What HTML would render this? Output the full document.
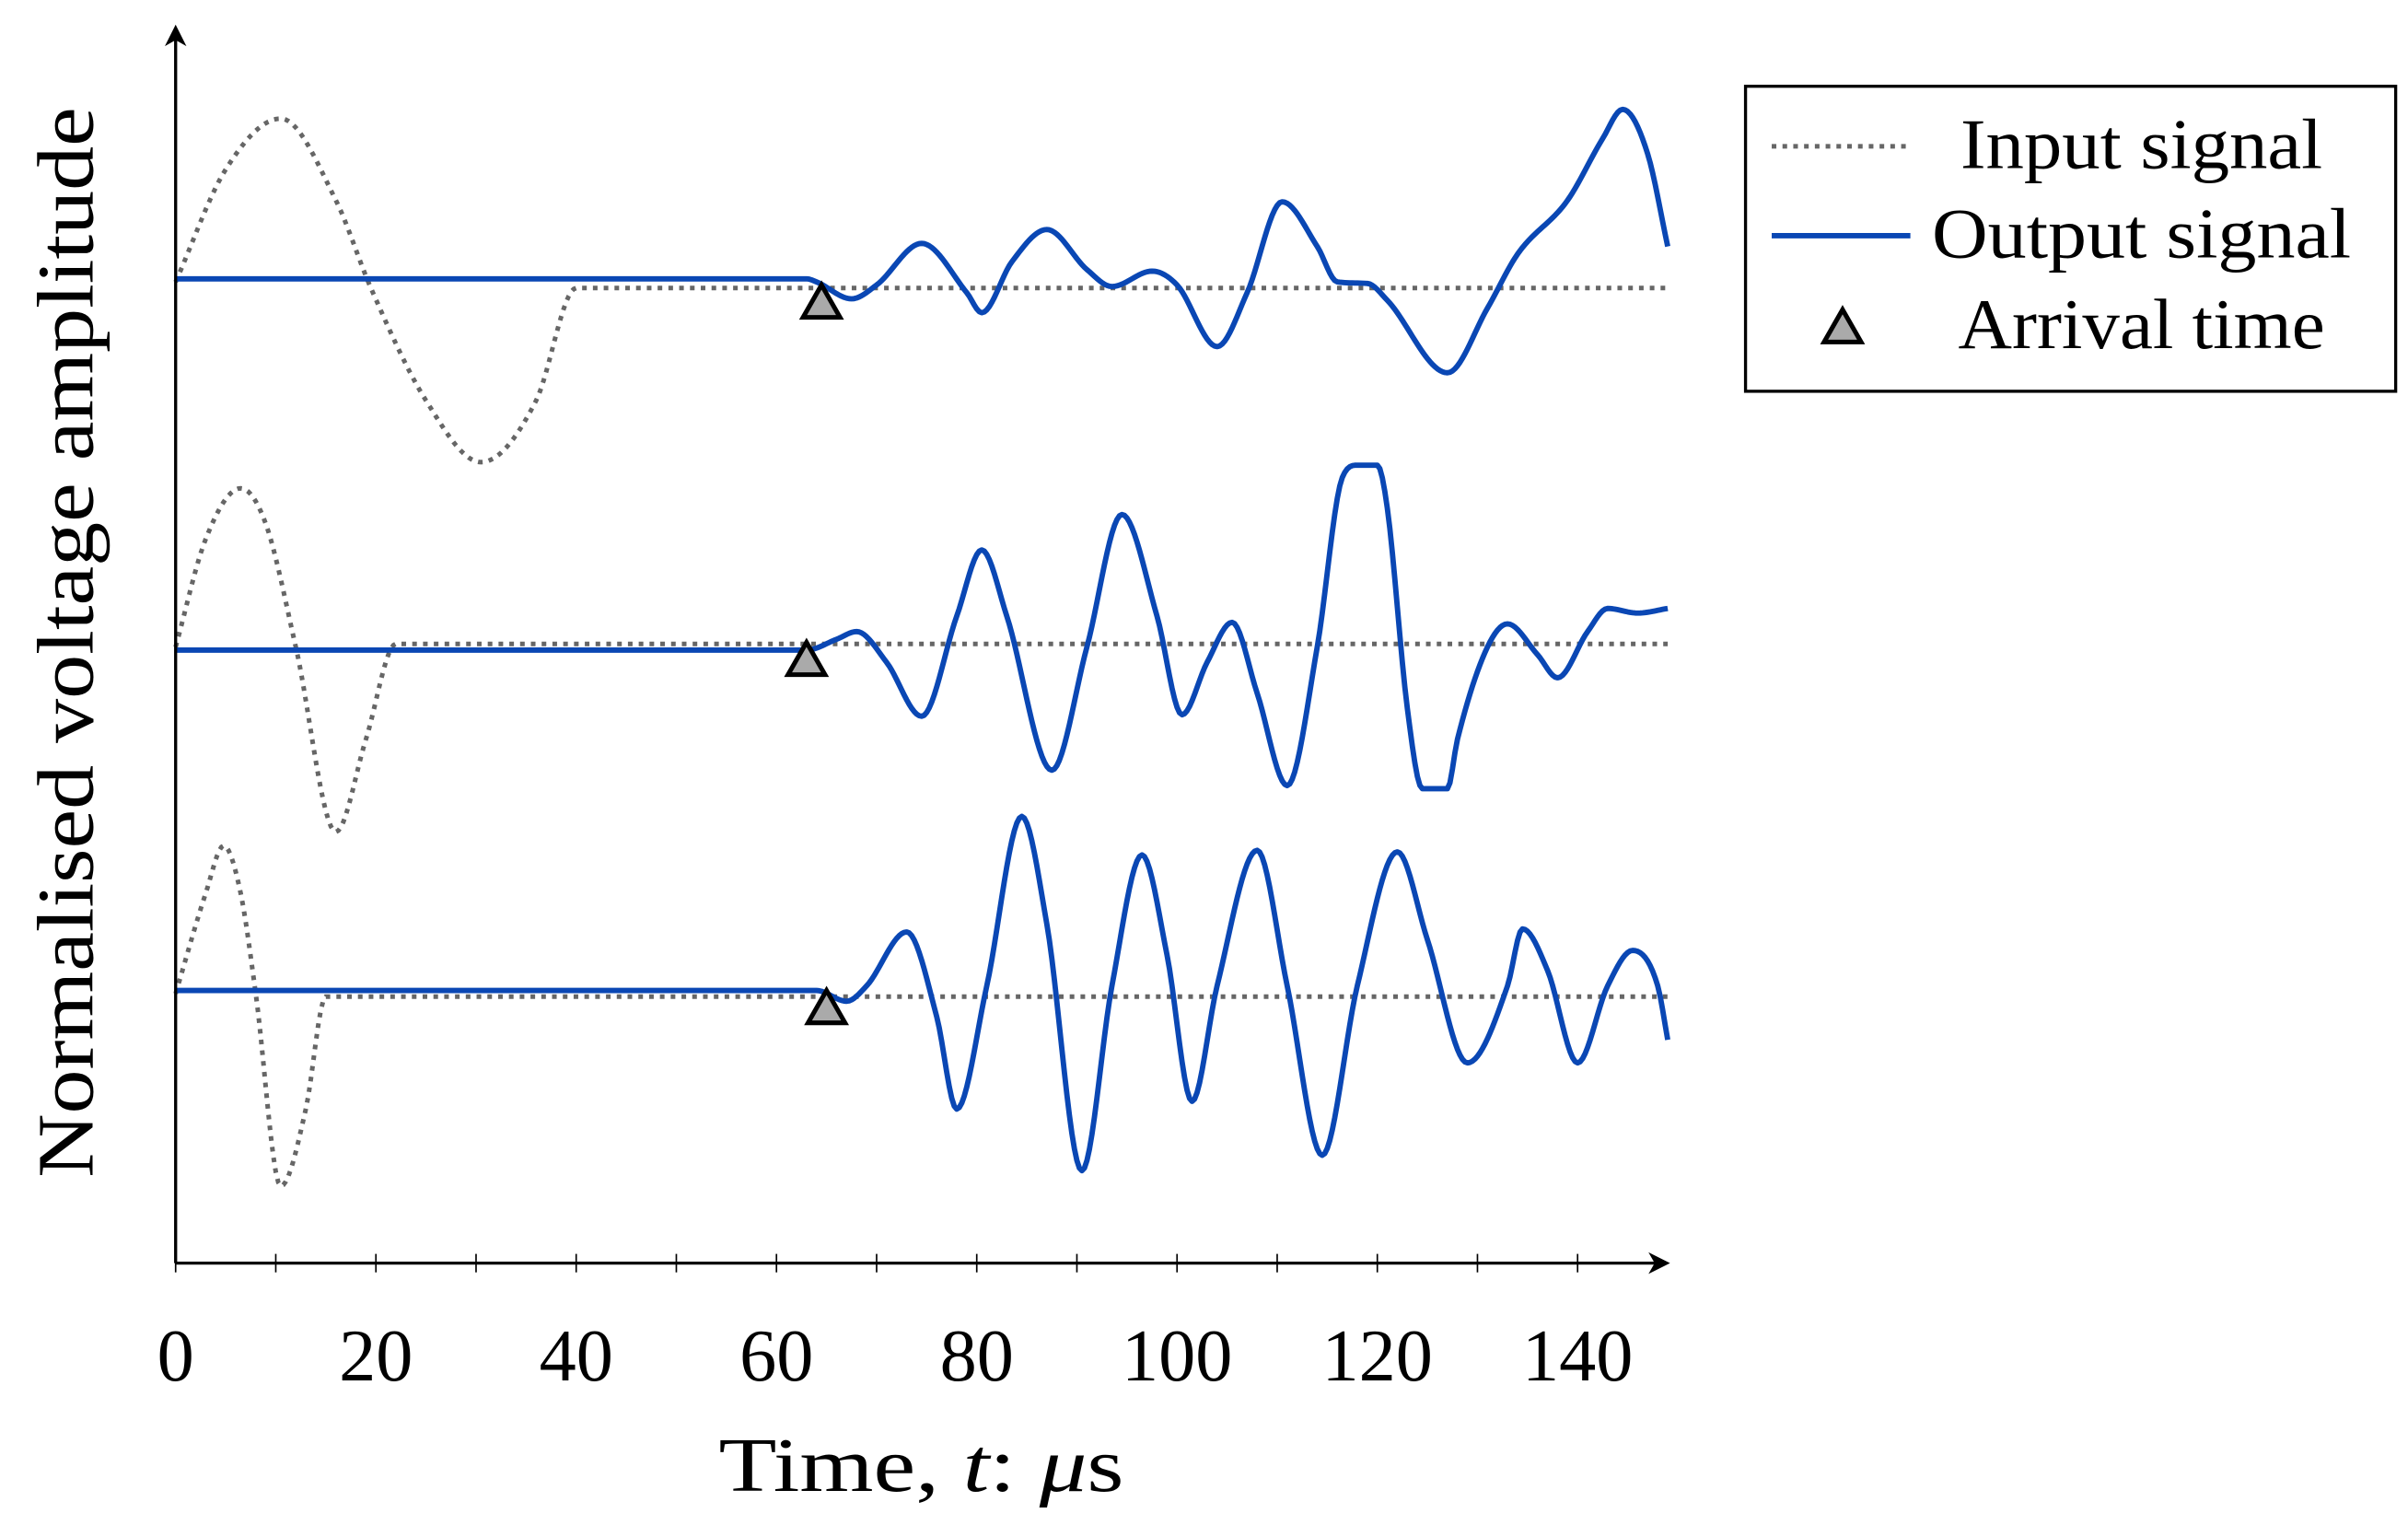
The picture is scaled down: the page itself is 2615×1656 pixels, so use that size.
<!DOCTYPE html>
<html><head><meta charset="utf-8"><style>
html,body{margin:0;padding:0;background:#fff;}
svg{display:block;}
text{font-family:"Liberation Serif",serif;fill:#000;}
</style></head><body>
<svg id="chart" width="2615" height="1656" viewBox="0 0 1563 990" preserveAspectRatio="none" xmlns="http://www.w3.org/2000/svg">
<g id="plot"></g>
<g>
<line x1="114" y1="820" x2="1078" y2="820" stroke="#000" stroke-width="2"/>
<path d="M1084 820 L1070 813 L1074 820 L1070 827 Z" fill="#000"/>
</g>
<g>
<line x1="114" y1="820" x2="114" y2="22" stroke="#000" stroke-width="2"/>
<path d="M114 16 L107 30 L114 26 L121 30 Z" fill="#000"/>
</g>
<g id="ticks"></g>
<text x="598" y="968" font-size="50" text-anchor="middle" textLength="263" lengthAdjust="spacingAndGlyphs">Time, <tspan font-style="italic">t</tspan>:  <tspan font-style="italic">μ</tspan>s</text>
<text transform="translate(60,417) rotate(-90)" font-size="52" text-anchor="middle" textLength="695" lengthAdjust="spacingAndGlyphs">Normalised voltage amplitude</text>
<g>
<rect x="1133" y="56" width="422" height="198" fill="#fff" stroke="#000" stroke-width="2"/>
<g>
<line x1="1150" y1="95" x2="1237" y2="95" stroke="#666" stroke-width="3" stroke-dasharray="3,4"/>
<text x="1390" y="109" font-size="46" text-anchor="middle" textLength="235" lengthAdjust="spacingAndGlyphs">Input signal</text></g>
<g>
<line x1="1150" y1="153" x2="1240" y2="153" stroke="#0a47b4" stroke-width="3.5"/>
<text x="1390" y="167" font-size="46" text-anchor="middle" textLength="272" lengthAdjust="spacingAndGlyphs">Output signal</text></g>
<g>
<path d="M1196 201 L1208 222 L1184 222 Z" fill="#aaa" stroke="#000" stroke-width="3"/>
<text x="1390" y="226" font-size="46" text-anchor="middle" textLength="238" lengthAdjust="spacingAndGlyphs">Arrival time</text></g>
</g>
</svg>
<script>
const centers = [185, 420, 645];
const inT = [
 [0,5,10.5,16,19.5,25,30.5,36,40,149],
 [0,3,6.5,9,12,16,19,22,149],
 [0,3,4.8,6.5,8,10.5,13,15,149]];
const inA = [
 [0.02,0.75,1.08,0.55,-0.02,-0.75,-1.15,-0.75,-0.02,-0.02],
 [0,0.70,1.03,0.80,0,-1.20,-0.60,0.02,0.02],
 [0,0.65,0.96,0.65,0,-1.25,-0.75,-0.02,-0.02]];
const outT = [
 [0,63,64,67.5,70,74.5,79,80.5,83.5,87,91,93.5,97.5,100,104,107,110.5,114,116,119,121,127,131,134,139,142.5,144.5,147,149],
 [0,63,66,68,71,74.5,78,80.5,83,87.5,91,94.5,98,100.5,103,105.5,108,111,114,116.5,118,120,121,123,124.5,127,128,131,133,136,138,141,143,146,149],
 [0,64,67,69,73,76,78,81,84.5,87,90.5,93.5,96.5,99,101.5,104,108,111,114.5,118,122,125,129,133,134.5,137,140,143,145.5,148,149]];
const outA = [
 [0.04,0.04,0.02,-0.09,0,0.27,-0.05,-0.18,0.15,0.36,0.10,-0.01,0.09,0,-0.40,-0.05,0.54,0.25,0.02,0.01,-0.10,-0.57,-0.15,0.20,0.55,0.95,1.14,0.85,0.25],
 [-0.02,-0.02,0.05,0.10,-0.10,-0.45,0.20,0.63,0.20,-0.80,0,0.86,0.20,-0.44,-0.10,0.16,-0.30,-0.90,0,1.10,1.18,1.18,0.90,-0.40,-0.92,-0.92,-0.60,0,0.15,-0.05,-0.20,0.10,0.25,0.22,0.25],
 [0.02,0.02,-0.05,0.05,0.40,-0.15,-0.75,0.05,1.15,0.45,-1.15,0.05,0.90,0.25,-0.70,0.05,0.93,0.05,-1.05,0.05,0.92,0.35,-0.45,0.05,0.42,0.15,-0.45,0.05,0.28,0.05,-0.30]];
const arrivalT = [64.5, 63, 65];
const arrivalA = [-0.11, -0.08, -0.09];
const xTicks = [0,10,20,30,40,50,60,70,80,90,100,110,120,130,140];
const xLabels = [0,20,40,60,80,100,120,140];

function xs(t){return 114 + t*6.5;}
function ys(i,a){return centers[i] - a*100;}
// monotone cubic (Fritsch-Carlson) sampled path
function path(i,T,A){
  const n=T.length, d=[], m=[];
  for(let k=0;k<n-1;k++) d.push((A[k+1]-A[k])/(T[k+1]-T[k]));
  m[0]=d[0]; m[n-1]=d[n-2];
  for(let k=1;k<n-1;k++) m[k]=(d[k-1]*d[k]<=0)?0:(d[k-1]+d[k])/2;
  for(let k=0;k<n-1;k++){
    if(d[k]===0){m[k]=0;m[k+1]=0;continue;}
    const a=m[k]/d[k], b=m[k+1]/d[k], s=a*a+b*b;
    if(s>9){const tau=3/Math.sqrt(s);m[k]=tau*a*d[k];m[k+1]=tau*b*d[k];}
  }
  let s='M'+xs(T[0])+' '+ys(i,A[0]);
  for(let k=0;k<n-1;k++){
    const h=T[k+1]-T[k], steps=Math.max(2,Math.ceil(h*4));
    for(let j=1;j<=steps;j++){
      const u=j/steps, u2=u*u, u3=u2*u;
      const v=(2*u3-3*u2+1)*A[k]+(u3-2*u2+u)*h*m[k]+(-2*u3+3*u2)*A[k+1]+(u3-u2)*h*m[k+1];
      s+=' L'+xs(T[k]+u*h).toFixed(2)+' '+ys(i,v).toFixed(2);
    }
  }
  return s;
}
const NS='http://www.w3.org/2000/svg';
const plot=document.getElementById('plot');
for(let i=0;i<3;i++){
  const g=document.createElementNS(NS,'path');
  g.setAttribute('d',path(i,inT[i],inA[i]));
  g.setAttribute('fill','none');g.setAttribute('stroke','#666');
  g.setAttribute('stroke-width','3');g.setAttribute('stroke-dasharray','3,4');
  
  
  plot.appendChild(g);
}
for(let i=0;i<3;i++){
  const b=document.createElementNS(NS,'path');
  b.setAttribute('d',path(i,outT[i],outA[i]));
  b.setAttribute('fill','none');b.setAttribute('stroke','#0a47b4');
  b.setAttribute('stroke-width','3.5');b.setAttribute('stroke-linejoin','round');
  
  
  plot.appendChild(b);
}
for(let i=0;i<3;i++){
  const x=xs(arrivalT[i]), y=ys(i,arrivalA[i]);
  const tr=document.createElementNS(NS,'path');
  tr.setAttribute('d','M'+x+' '+(y-11)+' L'+(x+12)+' '+(y+10)+' L'+(x-12)+' '+(y+10)+' Z');
  tr.setAttribute('fill','#aaa');tr.setAttribute('stroke','#000');tr.setAttribute('stroke-width','3');
  
  
  plot.appendChild(tr);
}
const tk=document.getElementById('ticks');
xTicks.forEach(t=>{
  const l=document.createElementNS(NS,'line');
  l.setAttribute('x1',xs(t));l.setAttribute('x2',xs(t));
  l.setAttribute('y1',814);l.setAttribute('y2',826);
  l.setAttribute('stroke','#000');l.setAttribute('stroke-width','1');
  
  
  tk.appendChild(l);
});
xLabels.forEach(t=>{
  const tx=document.createElementNS(NS,'text');
  tx.setAttribute('x',xs(t));tx.setAttribute('y',896);
  tx.setAttribute('font-size','48');tx.setAttribute('text-anchor','middle');
  tx.textContent=t;
  
  
  tk.appendChild(tx);
});
</script>
</body></html>
